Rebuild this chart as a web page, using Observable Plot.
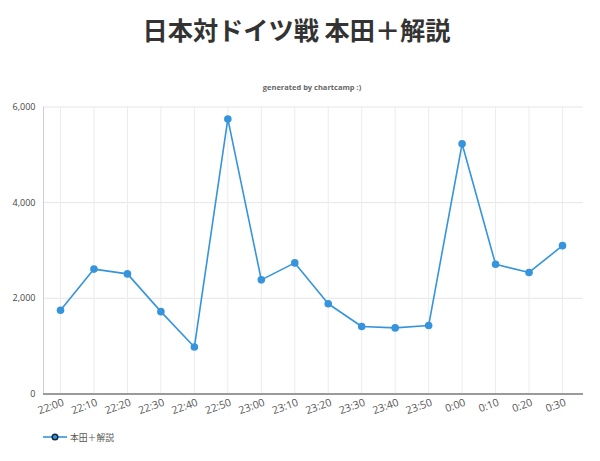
<!DOCTYPE html>
<html>
<head>
<meta charset="utf-8">
<script src="https://cdn.jsdelivr.net/npm/d3@7"></script>
<script src="https://cdn.jsdelivr.net/npm/@observablehq/plot@0.6"></script>
<style>
  html, body { margin: 0; padding: 0; background: #ffffff; }
  #wrap { width: 600px; height: 461px; position: relative; overflow: hidden; }
  #header { height: 96px; position: relative; }
  #title { position: absolute; left: 0; width: 593px; top: 10px; text-align: center;
    font-family: "Noto Sans CJK JP", sans-serif; font-weight: 700; font-size: 25.2px; color: #333; line-height: 38px; }
  #subtitle { position: absolute; left: 0; width: 624px; top: 81px; text-align: center;
    font-family: "Open Sans", sans-serif; font-weight: 700; font-size: 7.5px; color: #666; line-height: 12px; }
  #legend { position: absolute; left: 43px; top: 429px; height: 16px; display: flex; align-items: center;
    font-family: "Noto Sans CJK JP", sans-serif; font-size: 8.8px; color: #555; }
  #legend svg { margin-right: 3px; }
</style>
</head>
<body>
<div id="wrap">
  <div id="header">
    <div id="title"></div>
    <div id="subtitle"></div>
  </div>
  <div id="chart"></div>
  <div id="legend"></div>
</div>
<script>
const titleText = "日本対ドイツ戦 本田＋解説";
const subtitleText = "generated by chartcamp :)";
const seriesName = "本田＋解説";
const times = ["22:00","22:10","22:20","22:30","22:40","22:50","23:00","23:10","23:20","23:30","23:40","23:50","0:00","0:10","0:20","0:30"];
const values = [1750, 2610, 2510, 1720, 980, 5750, 2385, 2740, 1885, 1410, 1380, 1430, 5230, 2710, 2540, 3100];
const yTicks = [0, 2000, 4000, 6000];
const lineColor = "#3594db";

document.getElementById("title").textContent = titleText;
document.getElementById("subtitle").textContent = subtitleText;

const data = times.map((t, i) => ({time: t, value: values[i]}));

const chart = Plot.plot({
  width: 600,
  height: 330,
  marginTop: 10.5,
  marginLeft: 43,
  marginRight: 17,
  marginBottom: 32.6,
  style: {fontFamily: "'Open Sans', sans-serif", fontSize: "9px", color: "#444", background: "transparent"},
  x: {type: "point", domain: times, range: [60, 562], padding: 0, round: false, axis: null},
  y: {domain: [0, 6000], axis: null},
  marks: [
    Plot.gridY(yTicks, {stroke: "#e6e6e6", strokeOpacity: 1}),
    Plot.gridX(times, {stroke: "#ececec", strokeOpacity: 1}),
    Plot.frame({anchor: "left", stroke: "#cfcfcf"}),
    Plot.ruleY([0], {stroke: "#9a9a9a", strokeWidth: 2}),
    Plot.axisY(yTicks, {tickFormat: d3.format(","), tickSize: 0, tickPadding: 8, fontSize: 9, fill: "#444", label: null}),
    Plot.axisX(times, {tickSize: 0, tickRotate: -20, tickPadding: 8, textAnchor: "end", dx: 3, fontSize: 10.5, fill: "#555", label: null}),
    Plot.line(data, {x: "time", y: "value", stroke: lineColor, strokeWidth: 1.6}),
    Plot.dot(data, {x: "time", y: "value", r: 3.8, fill: lineColor, stroke: "none"})
  ]
});
document.getElementById("chart").appendChild(chart);

const legend = document.getElementById("legend");
const ns = "http://www.w3.org/2000/svg";
const ls = document.createElementNS(ns, "svg");
ls.setAttribute("width", "24"); ls.setAttribute("height", "10");
const ln = document.createElementNS(ns, "line");
ln.setAttribute("x1", 0); ln.setAttribute("x2", 24); ln.setAttribute("y1", 5); ln.setAttribute("y2", 5);
ln.setAttribute("stroke", lineColor); ln.setAttribute("stroke-width", 1.6);
const c = document.createElementNS(ns, "circle");
c.setAttribute("cx", 12); c.setAttribute("cy", 5); c.setAttribute("r", 2.8);
c.setAttribute("fill", lineColor); c.setAttribute("stroke", "#14273d"); c.setAttribute("stroke-width", 1.5);
ls.appendChild(ln); ls.appendChild(c);
legend.appendChild(ls);
const lt = document.createElement("span");
lt.textContent = seriesName;
legend.appendChild(lt);
</script>
</body>
</html>
